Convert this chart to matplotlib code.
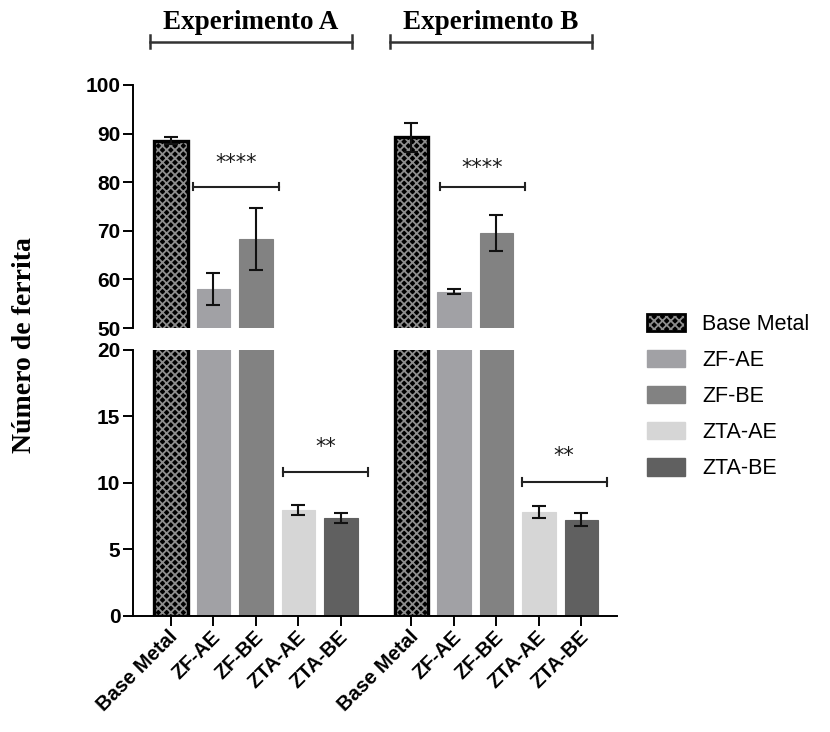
import numpy as np
import matplotlib
matplotlib.use('Agg')
import matplotlib.pyplot as plt
import matplotlib.transforms as mtransforms
from matplotlib.patches import Patch
from matplotlib.legend_handler import HandlerTuple

categories = ['Base Metal', 'ZF-AE', 'ZF-BE', 'ZTA-AE', 'ZTA-BE']
groups = ['Experimento A', 'Experimento B']

exp_a_mean = [88.5, 58.0, 68.3, 7.95, 7.4]
exp_a_sd = [0.7, 3.3, 6.4, 0.38, 0.38]
exp_b_mean = [89.2, 57.5, 69.6, 7.8, 7.25]
exp_b_sd = [2.9, 0.55, 3.7, 0.45, 0.48]

sig_top = '****'
sig_bottom = '**'

colors = ['black', '#a1a1a5', '#828282', '#d6d6d6', '#606060']

plt.rcParams['hatch.linewidth'] = 1.3
plt.rcParams['font.family'] = ['Liberation Sans', 'DejaVu Sans']

fig = plt.figure(figsize=(8.3, 7.32), dpi=100)
ax_top = fig.add_axes([0.1602, 0.5519, 0.5831, 0.332])
ax_bot = fig.add_axes([0.1602, 0.1585, 0.5831, 0.3634])

width = 0.78
group_offset = 5.66
x_a = np.arange(len(categories))
x_b = x_a + group_offset
x_all = np.concatenate([x_a, x_b])
means = np.array(exp_a_mean + exp_b_mean)
sds = np.array(exp_a_sd + exp_b_sd)
bar_colors = colors * 2

for ax in (ax_top, ax_bot):
    for i, (x, m, c) in enumerate(zip(x_all, means, bar_colors)):
        if i % len(categories) == 0:
            # checkered base metal bar with a heavy black border
            ax.bar(x, m, width, color='black', edgecolor='#8e8e8e', hatch='xxxx',
                   linewidth=0, zorder=2)
            ax.bar(x, m, width, fill=False, edgecolor='black', linewidth=2.4, zorder=3)
        else:
            ax.bar(x, m, width, color=c, edgecolor=c, linewidth=0.8, zorder=2)
    ax.errorbar(x_all, means, yerr=sds, fmt='none', ecolor='#111111',
                elinewidth=1.5, capsize=5, capthick=1.5, zorder=4)
    ax.set_xlim(-0.894, x_b[-1] + 0.835)
    for side in ('top', 'right'):
        ax.spines[side].set_visible(False)
    ax.spines['left'].set_linewidth(1.4)
    ax.tick_params(axis='y', length=7, width=1.4, labelsize=15, pad=2)

ax_top.set_ylim(50, 100)
ax_top.set_yticks(np.arange(50, 101, 10))
ax_top.spines['bottom'].set_visible(False)
ax_top.set_xticks([])

ax_bot.set_ylim(0, 20)
ax_bot.set_yticks(np.arange(0, 21, 5))
ax_bot.spines['bottom'].set_linewidth(1.4)
ax_bot.set_xticks(x_all)
ax_bot.set_xticklabels(categories * 2, rotation=45, ha='right', va='center',
                       rotation_mode='anchor', fontsize=14.5, fontweight='bold')
ax_bot.tick_params(axis='x', length=7, width=1.4, pad=6)
shift = mtransforms.ScaledTranslation(4 / 100, 0, fig.dpi_scale_trans)
for lbl in ax_bot.get_xticklabels():
    lbl.set_transform(lbl.get_transform() + shift)
for ax in (ax_top, ax_bot):
    for lbl in ax.get_yticklabels():
        lbl.set_fontweight('bold')


def bracket(ax, x0, x1, y, cap, star_y, text):
    ax.plot([x0, x1], [y, y], color='#222222', lw=1.5, zorder=5)
    for xx in (x0, x1):
        ax.plot([xx, xx], [y - cap, y + cap], color='#222222', lw=1.5, zorder=5)
    ax.text((x0 + x1) / 2, star_y, text, ha='center', va='center',
            fontsize=15, family='DejaVu Sans', color='#1a1a1a')


# significance between ZF samples and between ZTA samples
bracket(ax_top, x_a[1] - 0.48, x_a[2] + 0.54, 79.1, 0.8, 84.0, sig_top)
bracket(ax_top, x_b[1] - 0.33, x_b[2] + 0.67, 79.1, 0.8, 82.9, sig_top)
bracket(ax_bot, x_a[3] - 0.36, x_a[4] + 0.64, 10.8, 0.3, 12.7, sig_bottom)
bracket(ax_bot, x_b[3] - 0.41, x_b[4] + 0.59, 10.05, 0.3, 12.0, sig_bottom)

# experiment headers above each group
blend = mtransforms.blended_transform_factory(ax_top.transData, fig.transFigure)
for xs, name in zip((x_a, x_b), groups):
    c = xs[2]
    x0, x1 = c - 2.5, c + 2.25
    ax_top.plot([x0, x1], [0.943, 0.943], color='#333333', lw=1.8,
                transform=blend, clip_on=False)
    for xx in (x0, x1):
        ax_top.plot([xx, xx], [0.934, 0.952], color='#333333', lw=1.8,
                    transform=blend, clip_on=False)
    ax_top.text((x0 + x1) / 2, 0.969, name, transform=blend, ha='center', va='center',
                fontsize=19.5, fontweight='bold', family='Liberation Serif')

fig.text(25 / 830, 1 - 345 / 732, 'Número de ferrita', rotation=90, ha='center',
         va='center', fontsize=20, fontweight='bold', family='Liberation Serif')

handles = []
for i, (name, c) in enumerate(zip(categories, colors)):
    if i == 0:
        handles.append((Patch(facecolor='black', edgecolor='#8e8e8e', hatch='xxxx', linewidth=0),
                        Patch(fill=False, edgecolor='black', linewidth=2)))
    else:
        handles.append(Patch(facecolor=c, edgecolor=c))
fig.legend(handles, categories, loc='upper left',
           bbox_to_anchor=(647 / 830, 1 - 314 / 732), frameon=False,
           fontsize=15.5, handlelength=1.75, handleheight=0.85,
           handletextpad=0.8, labelspacing=0.7, borderpad=0, borderaxespad=0,
           handler_map={tuple: HandlerTuple(ndivide=1)})

fig.savefig('out.png', dpi=100)
